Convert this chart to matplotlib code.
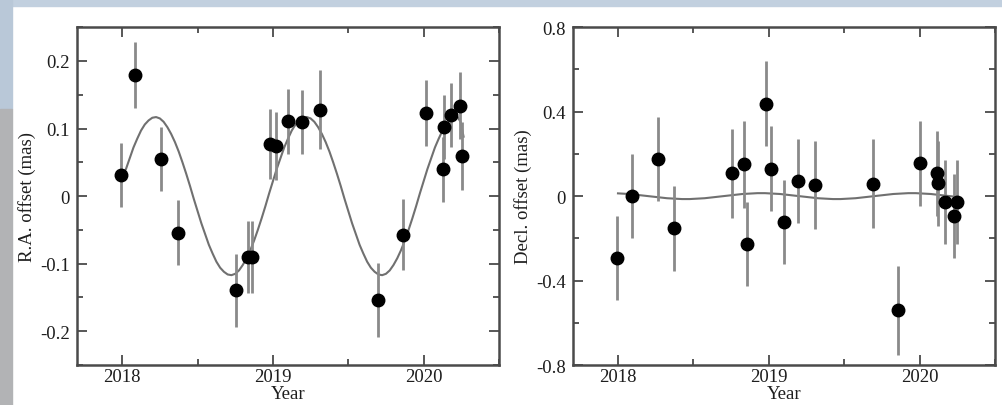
import numpy as np
import matplotlib
matplotlib.use("Agg")
import matplotlib.pyplot as plt
from matplotlib.patches import Rectangle
from matplotlib.ticker import MultipleLocator

# R.A. offsets (mas) with 1-sigma errors
ra_t = [2017.99, 2018.088, 2018.256, 2018.37, 2018.755, 2018.838, 2018.861,
        2018.982, 2019.022, 2019.10, 2019.194, 2019.31, 2019.695, 2019.863,
        2020.013, 2020.126, 2020.134, 2020.18, 2020.24, 2020.256]
ra_y = [0.031, 0.179, 0.055, -0.054, -0.139, -0.090, -0.090,
        0.077, 0.074, 0.111, 0.110, 0.128, -0.154, -0.057,
        0.123, 0.040, 0.102, 0.120, 0.134, 0.059]
ra_e = [0.047, 0.049, 0.047, 0.048, 0.054, 0.053, 0.053,
        0.052, 0.050, 0.048, 0.047, 0.059, 0.055, 0.052,
        0.049, 0.048, 0.047, 0.047, 0.050, 0.050]

# Decl. offsets (mas) with 1-sigma errors
de_t = [2017.993, 2018.096, 2018.263, 2018.372, 2018.756, 2018.838, 2018.854,
        2018.979, 2019.018, 2019.099, 2019.193, 2019.307, 2019.69, 2019.857,
        2020.004, 2020.116, 2020.124, 2020.166, 2020.231, 2020.245]
de_y = [-0.292, 0.0, 0.177, -0.153, 0.108, 0.150, -0.226,
        0.438, 0.130, -0.123, 0.071, 0.052, 0.059, -0.541,
        0.155, 0.108, 0.060, -0.027, -0.095, -0.027]
de_e = [0.198, 0.200, 0.200, 0.200, 0.210, 0.205, 0.200,
        0.200, 0.200, 0.200, 0.200, 0.210, 0.210, 0.210,
        0.200, 0.200, 0.200, 0.200, 0.200, 0.200]

# model curves (every 0.025 yr from 2018.0 to 2020.225,
# then the two last points of the hook at the end)
model_t = list(np.round(np.arange(2018.0, 2020.2251, 0.025), 3)) + [2020.245, 2020.265]
ra_model_y = [
    0.033, 0.040, 0.056, 0.072, 0.085, 0.097, 0.106, 0.112, 0.116, 0.117,
    0.115, 0.110, 0.102, 0.092, 0.080, 0.066, 0.050, 0.033, 0.015, -0.004,
    -0.022, -0.040, -0.056, -0.072, -0.085, -0.097, -0.106, -0.112, -0.116, -0.117,
    -0.115, -0.110, -0.102, -0.092, -0.080, -0.066, -0.050, -0.033, -0.015, 0.004,
    0.022, 0.040, 0.056, 0.072, 0.085, 0.097, 0.106, 0.112, 0.116, 0.117,
    0.115, 0.110, 0.102, 0.092, 0.080, 0.066, 0.050, 0.033, 0.015, -0.004,
    -0.022, -0.040, -0.056, -0.072, -0.085, -0.097, -0.106, -0.112, -0.116, -0.117,
    -0.115, -0.110, -0.102, -0.092, -0.080, -0.066, -0.050, -0.033, -0.015, 0.004,
    0.022, 0.040, 0.056, 0.072, 0.085, 0.097, 0.106, 0.112, 0.116, 0.117,
    0.110, 0.088]
de_model_y = [
    0.013, 0.012, 0.011, 0.010, 0.008, 0.006, 0.004, 0.002, 0.000, -0.002,
    -0.004, -0.006, -0.008, -0.010, -0.011, -0.012, -0.013, -0.014, -0.014, -0.014,
    -0.013, -0.012, -0.011, -0.010, -0.008, -0.006, -0.004, -0.002, 0.000, 0.002,
    0.004, 0.006, 0.008, 0.010, 0.011, 0.012, 0.013, 0.014, 0.014, 0.014,
    0.013, 0.012, 0.011, 0.010, 0.008, 0.006, 0.004, 0.002, 0.000, -0.002,
    -0.004, -0.006, -0.008, -0.010, -0.011, -0.012, -0.013, -0.014, -0.014, -0.014,
    -0.013, -0.012, -0.011, -0.010, -0.008, -0.006, -0.004, -0.002, 0.000, 0.002,
    0.004, 0.006, 0.008, 0.010, 0.011, 0.012, 0.013, 0.014, 0.014, 0.014,
    0.013, 0.012, 0.011, 0.010, 0.008, 0.006, 0.004, 0.002, 0.000, -0.002,
    -0.008, -0.014]

SPINE, ERR, CURVE = "#4a4a4a", "#8a8a8a", "#707070"
plt.rcParams["font.family"] = ["Liberation Serif", "DejaVu Serif"]

fig = plt.figure(figsize=(10.02, 4.06), dpi=100, facecolor="white")
# page-like backdrop around the figure
fig.patches.append(Rectangle((0, 1 - 7 / 406), 1, 7 / 406, transform=fig.transFigure,
                             color="#c2d0df", zorder=-1))
fig.patches.append(Rectangle((0, 0.73), 12 / 1002, 0.27, transform=fig.transFigure,
                             color="#b9c8d8", zorder=-1))
fig.patches.append(Rectangle((0, 0), 12 / 1002, 0.73, transform=fig.transFigure,
                             color="#b2b3b5", zorder=-1))

ax1 = fig.add_axes([0.0768, 0.0985, 0.4212, 0.832])
ax2 = fig.add_axes([0.5716, 0.0985, 0.4214, 0.832])


def panel(ax, t, y, e, mt, my, ylim, major, minor, ylabel, fmt):
    ax.plot(mt, my, color=CURVE, lw=1.5, zorder=2)
    ax.errorbar(t, y, yerr=e, fmt="o", color="black", ms=9, ecolor=ERR,
                elinewidth=2.0, capsize=0, zorder=3)
    ax.set_xlim(2017.7, 2020.5)
    ax.set_ylim(*ylim)
    ax.xaxis.set_major_locator(MultipleLocator(1))
    ax.xaxis.set_minor_locator(MultipleLocator(0.5))
    ax.yaxis.set_major_locator(MultipleLocator(major))
    ax.yaxis.set_minor_locator(MultipleLocator(minor))
    ax.yaxis.set_major_formatter(fmt)
    ax.tick_params(which="both", direction="in", top=True, right=True,
                   color=SPINE, width=1.3, labelsize=13.5, labelcolor="#1e1e1e")
    ax.tick_params(axis="x", pad=2)
    ax.tick_params(axis="y", pad=5)
    ax.tick_params(which="major", length=7)
    ax.tick_params(which="minor", length=4)
    for s in ax.spines.values():
        s.set_color(SPINE)
        s.set_linewidth(1.8)
    ax.set_xlabel("Year", fontsize=13.5, color="#1e1e1e", labelpad=0)
    ax.set_ylabel(ylabel, fontsize=13.5, color="#1e1e1e", labelpad=3)


def f_ra(v, pos):
    return "0" if abs(v) < 1e-9 else f"{v:.1f}"


panel(ax1, ra_t, ra_y, ra_e, model_t, ra_model_y, (-0.25, 0.25), 0.1, 0.05,
      "R.A. offset (mas)", f_ra)
panel(ax2, de_t, de_y, de_e, model_t, de_model_y, (-0.8, 0.8), 0.4, 0.2,
      "Decl. offset (mas)", f_ra)

fig.savefig("out.png", dpi=100, facecolor="white")
